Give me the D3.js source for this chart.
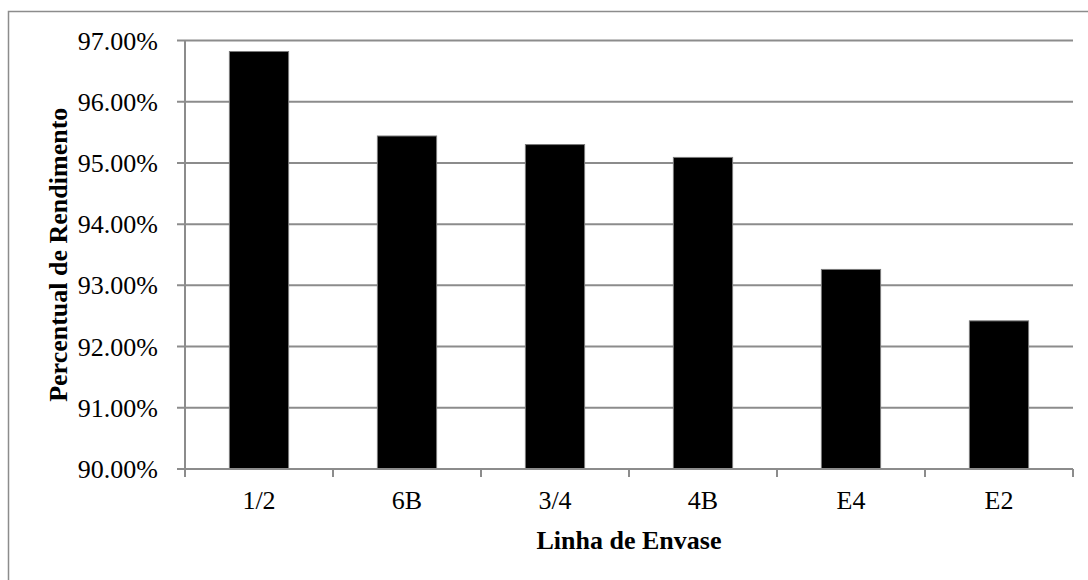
<!DOCTYPE html>
<html>
<head>
<meta charset="utf-8">
<script src="https://cdn.jsdelivr.net/npm/d3@7"></script>
<style>
  body { margin: 0; background: #fff; }
  svg text { font-family: "Liberation Serif", "Times New Roman", serif; fill: #000; }
</style>
</head>
<body>
<div id="chart"></div>
<script>
const categories = ['1/2', '6B', '3/4', '4B', 'E4', 'E2'];
const values = [96.82, 95.44, 95.30, 95.09, 93.26, 92.42];
const yTicks = [90, 91, 92, 93, 94, 95, 96, 97];

const w = 1088, h = 580;
const plotLeft = 185, plotRight = 1073, plotTop = 40.5, plotBottom = 469;

const svg = d3.select('#chart')
  .append('svg')
  .attr('width', w)
  .attr('height', h);

// outer frame
svg.append('rect')
  .attr('x', 8.5).attr('y', 11.5)
  .attr('width', 1200).attr('height', 700)
  .attr('fill', 'none')
  .attr('stroke', '#8c8c8c')
  .attr('stroke-width', 1.5);

const xScale = d3.scaleBand()
  .domain(categories)
  .range([plotLeft, plotRight])
  .paddingInner(0.6)
  .paddingOuter(0.3);

const xTickScale = d3.scaleLinear()
  .domain([0, categories.length])
  .range([plotLeft, plotRight]);

const yScale = d3.scaleLinear()
  .domain([90, 97])
  .range([plotBottom, plotTop]);

// gridlines
svg.append('g')
  .selectAll('line')
  .data(yTicks)
  .enter()
  .append('line')
  .attr('x1', plotLeft - 8)
  .attr('x2', plotRight)
  .attr('y1', d => yScale(d))
  .attr('y2', d => yScale(d))
  .attr('stroke', '#8c8c8c')
  .attr('stroke-width', 2);

// bars
svg.selectAll('rect.bar')
  .data(values)
  .enter()
  .append('rect')
  .attr('class', 'bar')
  .attr('x', (d, i) => xScale(categories[i]))
  .attr('y', d => yScale(d))
  .attr('width', xScale.bandwidth())
  .attr('height', d => plotBottom - yScale(d))
  .attr('fill', '#000')
  .attr('stroke', '#7a7a7a')
  .attr('stroke-width', 1);

// y axis line
svg.append('line')
  .attr('x1', plotLeft).attr('x2', plotLeft)
  .attr('y1', plotTop).attr('y2', plotBottom)
  .attr('stroke', '#8c8c8c').attr('stroke-width', 2);

// x axis line + ticks
svg.append('line')
  .attr('x1', plotLeft - 8).attr('x2', plotRight)
  .attr('y1', plotBottom).attr('y2', plotBottom)
  .attr('stroke', '#8c8c8c').attr('stroke-width', 2);

svg.append('g')
  .selectAll('line')
  .data(d3.range(categories.length + 1))
  .enter()
  .append('line')
  .attr('x1', d => xTickScale(d))
  .attr('x2', d => xTickScale(d))
  .attr('y1', plotBottom)
  .attr('y2', plotBottom + 8)
  .attr('stroke', '#8c8c8c').attr('stroke-width', 2);

// y tick labels
svg.append('g')
  .selectAll('text')
  .data(yTicks)
  .enter()
  .append('text')
  .attr('x', plotLeft - 27)
  .attr('y', d => yScale(d))
  .attr('dy', '0.35em')
  .attr('text-anchor', 'end')
  .style('font-size', '26px')
  .text(d => d.toFixed(2) + '%');

// x tick labels
svg.append('g')
  .selectAll('text')
  .data(categories)
  .enter()
  .append('text')
  .attr('x', d => xScale(d) + xScale.bandwidth() / 2)
  .attr('y', plotBottom + 31)
  .attr('dy', '0.35em')
  .attr('text-anchor', 'middle')
  .style('font-size', '26px')
  .text(d => d);

// axis titles
svg.append('text')
  .attr('x', (plotLeft + plotRight) / 2)
  .attr('y', 540)
  .attr('dy', '0.35em')
  .attr('text-anchor', 'middle')
  .style('font-size', '26px')
  .style('font-weight', 'bold')
  .text('Linha de Envase');

svg.append('text')
  .attr('transform', `translate(58, ${(plotTop + plotBottom) / 2}) rotate(-90)`)
  .attr('dy', '0.35em')
  .attr('text-anchor', 'middle')
  .style('font-size', '26px')
  .style('font-weight', 'bold')
  .text('Percentual de Rendimento');
</script>
</body>
</html>
